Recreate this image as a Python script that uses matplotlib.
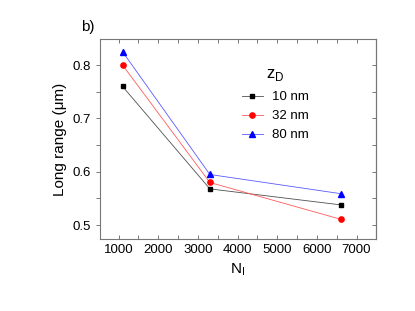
import matplotlib
matplotlib.use('Agg')
import matplotlib.pyplot as plt
from matplotlib.ticker import MultipleLocator

plt.rcParams['font.family'] = ['Liberation Sans', 'DejaVu Sans']

# data
n_i = [1100, 3300, 6600]
zd_10 = [0.760, 0.568, 0.538]
zd_32 = [0.800, 0.580, 0.511]
zd_80 = [0.825, 0.595, 0.559]
labels = ['10 nm', '32 nm', '80 nm']

fig = plt.figure(figsize=(4.15, 3.11), dpi=100)
ax = fig.add_axes([0.241, 0.2315, 0.665, 0.643])

# lighter connecting lines, solid markers
ax.plot(n_i, zd_10, c='#505050', lw=0.6, marker='s', ms=3.5, mec='k', mfc='k', label=labels[0])
ax.plot(n_i, zd_32, c='#ff5a5a', lw=0.6, marker='o', ms=3.8, mec='r', mfc='r', label=labels[1])
ax.plot(n_i, zd_80, c='#5a5aff', lw=0.6, marker='^', ms=4.2, mec='b', mfc='b', label=labels[2])

ax.set_xlim(530, 7490)
ax.set_ylim(0.474, 0.849)

ax.xaxis.set_major_locator(MultipleLocator(1000))
ax.xaxis.set_minor_locator(MultipleLocator(500))
ax.yaxis.set_major_locator(MultipleLocator(0.1))
ax.yaxis.set_minor_locator(MultipleLocator(0.05))

for s in ax.spines.values():
    s.set_color('#777777')
    s.set_linewidth(0.8)

ax.tick_params(axis='x', which='both', direction='in', top=True, color='#777777',
               labelsize=9.5, length=3, width=0.7)
ax.tick_params(axis='y', which='both', direction='out', color='#777777',
               labelsize=9.5, length=3, width=0.7)
# right side ticks point inward
ax2 = ax.secondary_yaxis('right')
ax2.yaxis.set_major_locator(MultipleLocator(0.05))
ax2.tick_params(direction='in', length=3, width=0.7, color='#777777', labelright=False)
ax2.spines['right'].set_color('#777777')
ax2.spines['right'].set_linewidth(0.8)

ax.set_xlabel('N$_\\mathregular{I}$', fontsize=11)
ax.set_ylabel('Long range (\u03bcm)', fontsize=11)

leg = ax.legend(loc='upper left', bbox_to_anchor=(0.47, 0.925), frameon=False,
                fontsize=9.5, title='z$_\\mathregular{D}$', title_fontsize=12,
                handlelength=1.6, handletextpad=0.7, labelspacing=0.5)
leg._legend_box.sep = 6

fig.text(0.195, 0.9, 'b)', fontsize=11)

fig.savefig('out.png', dpi=100)
